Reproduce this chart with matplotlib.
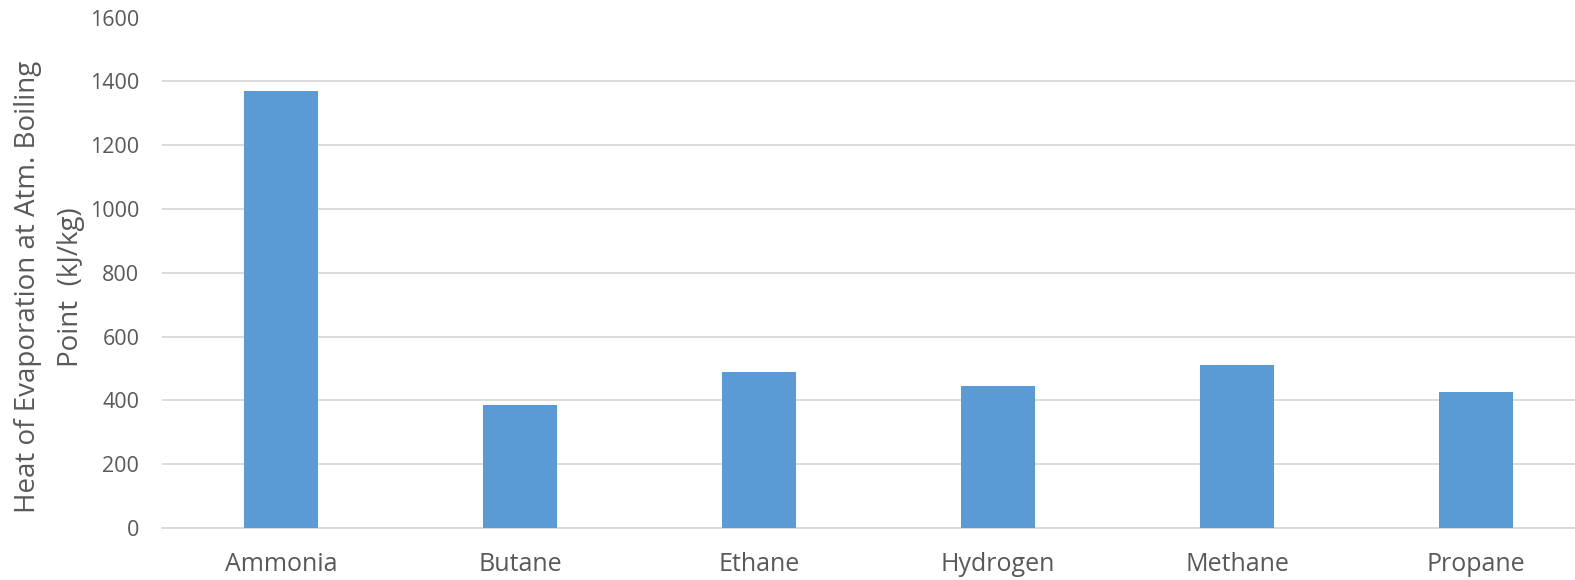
import matplotlib
matplotlib.use("Agg")
import matplotlib.pyplot as plt
import numpy as np

# heat of evaporation at atmospheric boiling point, kJ/kg
fuels = ["Ammonia", "Butane", "Ethane", "Hydrogen", "Methane", "Propane"]
heat_evap = [1370, 385, 489, 446, 510, 426]
y_ticks = [0, 200, 400, 600, 800, 1000, 1200, 1400, 1600]

bar_color = "#5b9bd5"
grid_color = "#d9d9d9"
text_color = "#595959"

plt.rcParams["font.family"] = ["Open Sans", "DejaVu Sans"]

fig = plt.figure(figsize=(15.75, 5.8), dpi=100)
ax = fig.add_axes([161.5 / 1575, 1 - 528 / 580, 6 * 239 / 1575, (528 - 17.5) / 580])

x = np.arange(len(fuels))
ax.bar(x, heat_evap, width=0.313, color=bar_color, zorder=3)

ax.set_xlim(-0.5, len(fuels) - 0.5)
ax.set_ylim(0, 1600)
ax.set_yticks(y_ticks)
ax.set_xticks(x)
ax.set_xticklabels(fuels, fontsize=18, color=text_color)
ax.tick_params(axis="y", labelsize=15.5, labelcolor=text_color, length=0, pad=16)
ax.tick_params(axis="x", length=0, pad=17)

ax.yaxis.grid(True, color=grid_color, linewidth=1.3, zorder=0)
for side in ["top", "right", "left"]:
    ax.spines[side].set_visible(False)
ax.spines["bottom"].set_color(grid_color)
ax.spines["bottom"].set_linewidth(1.3)

ax.set_ylabel("Heat of Evaporation at Atm. Boiling\nPoint  (kJ/kg)", fontsize=20,
              color=text_color, linespacing=1.7)
ax.yaxis.set_label_coords(-0.0535, 0.472)

fig.savefig("out.png", dpi=100)
